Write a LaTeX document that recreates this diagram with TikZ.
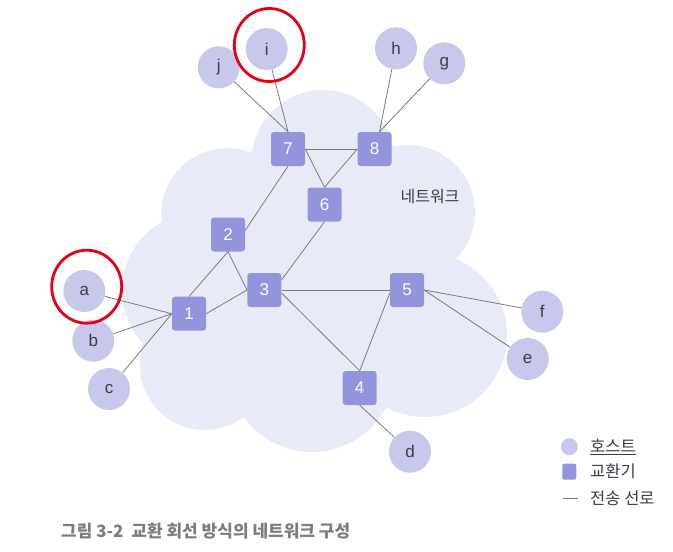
\documentclass[tikz,border=0pt]{standalone}
\usepackage{fontspec}
\setmainfont{Liberation Sans}
\newfontfamily\kr{Noto Sans CJK KR}
\usetikzlibrary{shapes.geometric}
\definecolor{cloudc}{HTML}{E9EAF7}
\definecolor{hostc}{HTML}{C7C8EB}
\definecolor{swc}{HTML}{9394DC}
\definecolor{linec}{HTML}{7A7A7A}
\definecolor{redc}{HTML}{E60012}
\definecolor{txt}{HTML}{3C3C46}
\definecolor{capc}{HTML}{7D7D7D}
\pgfdeclarelayer{bg}
\pgfsetlayers{bg,main}
\tikzset{
  host/.style={circle, fill=hostc, minimum size=42pt, inner sep=0pt, text=txt, font=\fontsize{17}{17}\selectfont},
  sw/.style={rectangle, rounded corners=3pt, fill=swc, minimum size=34pt, inner sep=0pt, text=white, font=\fontsize{17}{17}\selectfont},
  link/.style={draw=linec, line width=0.8pt},
  ring/.style={ellipse, draw=redc, line width=2.8pt, minimum width=70pt, minimum height=73pt, inner sep=0pt},
  lab/.style={anchor=west, inner sep=0pt, text=txt, font=\kr\fontsize{16.5}{16.5}\selectfont},
}
\begin{document}
\begin{tikzpicture}[x=1pt,y=-1pt]
\useasboundingbox (0,0) rectangle (673,552);
% hosts
\node[host] (i) at (266.7,49) {i};
\node[host] (j) at (218.7,67.3) {j};
\node[host] (h) at (396,48.3) {h};
\node[host] (g) at (444.3,63.3) {g};
\node[host] (a) at (84.3,291) {a};
\node[host] (b) at (93.3,340.7) {b};
\node[host] (c) at (109,389) {c};
\node[host] (f) at (542.3,311.7) {f};
\node[host] (e) at (527.7,359) {e};
\node[host] (d) at (410,451.7) {d};
% switches
\node[sw] (s7) at (288,149) {7};
\node[sw] (s8) at (374.5,149) {8};
\node[sw] (s6) at (324.5,204.5) {6};
\node[sw] (s2) at (228,234.5) {2};
\node[sw] (s3) at (264.3,290) {3};
\node[sw] (s5) at (407,290) {5};
\node[sw] (s1) at (189,313.7) {1};
\node[sw] (s4) at (359.7,388) {4};
% red rings
\node[ring] (ri) at (269.3,45) {};
\node[ring] (ra) at (86.7,286.7) {};
% network label
\node[text=txt, font=\kr\fontsize{16}{16}\selectfont, inner sep=0pt] (net) at (430,197) {네트워크};
\begin{pgfonlayer}{bg}
  \fill[cloudc] (323,161.5) circle[radius=71.5]
                (227,214) circle[radius=65.8]
                (200,290) circle[radius=78]
                (205,365) circle[radius=65]
                (312,368) circle[radius=84]
                (425,335) circle[radius=82]
                (408,212) circle[radius=67]
                (330,270) circle[radius=100];
  \draw[link] (j) -- (s7.north);
  \draw[link] (i) -- (s7.north);
  \draw[link] (h) -- ([xshift=5pt]s8.north);
  \draw[link] (g) -- ([xshift=5pt]s8.north);
  \draw[link] (s7) -- (s8);
  \draw[link] (s7.east) -- (s6.north);
  \draw[link] (s8.west) -- (s6.north);
  \draw[link] (s7.south) -- ([yshift=4pt]s2.east);
  \draw[link] (s1.north) -- (s2.south);
  \draw[link] (s2.south) -- (s3.west);
  \draw[link] (s1.east) -- (s3.west);
  \draw[link] (s6.south) -- ([yshift=10pt]s3.east);
  \draw[link] (s3.east) -- (s5.west);
  \draw[link] ([yshift=-3pt]s3.east) -- (s4.north);
  \draw[link] ([yshift=-3pt]s5.west) -- (s4.north);
  \draw[link] (s5.east) -- (f);
  \draw[link] (s5.east) -- (e);
  \draw[link] (s4.south) -- (d);
  \draw[link] (a) -- (s1.west);
  \draw[link] (b) -- (s1.west);
  \draw[link] (c) -- (s1.west);
\end{pgfonlayer}
% legend
\node[circle, fill=hostc, minimum size=17pt, inner sep=0pt] (lh) at (569.3,446.7) {};
\node[rectangle, rounded corners=2pt, fill=swc, minimum width=14pt, minimum height=16pt, inner sep=0pt] (ls) at (569.3,471.7) {};
\coordinate (ll1) at (562.7,498.3);
\coordinate (ll2) at (578.3,498.3);
\draw[link] (ll1) -- (ll2);
\node[lab] (lth) at (590,446.7) {\underline{호스트}};
\node[lab] (lts) at (590,471.7) {교환기};
\node[lab] (ltl) at (590,498.3) {전송 선로};
% caption
\node[anchor=west, inner sep=0pt, text=capc, font=\kr\bfseries\fontsize{17}{17}\selectfont] (cap) at (61,531) {그림 3-2\ \ 교환 회선 방식의 네트워크 구성};
\end{tikzpicture}
\end{document}
